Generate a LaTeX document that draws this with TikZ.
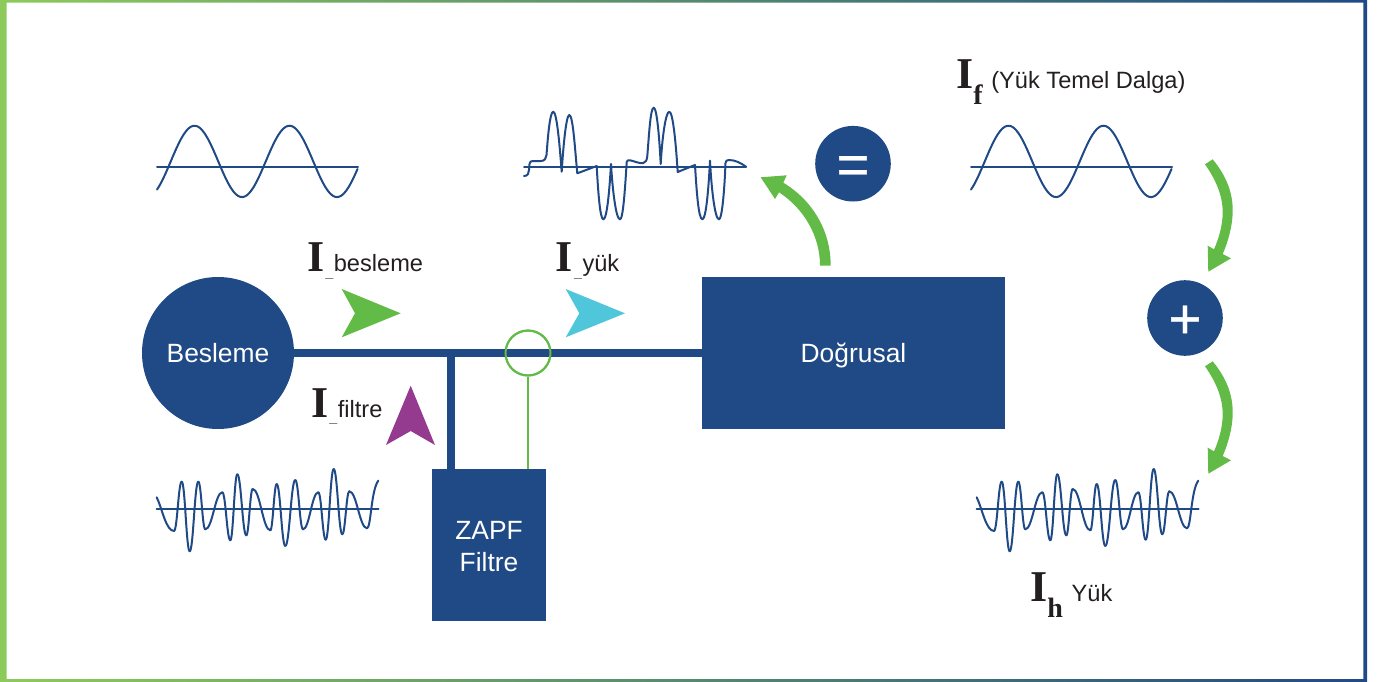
\documentclass[tikz,border=0pt]{standalone}
\usepackage{fontspec}
\setmainfont{Liberation Sans}
\newfontfamily\serfam{Liberation Serif}
\newfontfamily\opfam[FakeBold=0.6]{Liberation Sans}
\usetikzlibrary{calc}
\definecolor{navy}{HTML}{1F4A85}
\definecolor{gr}{HTML}{62BB46}
\definecolor{cy}{HTML}{50C6DB}
\definecolor{pu}{HTML}{943B90}
\definecolor{ink}{HTML}{231F20}
\definecolor{bleft}{HTML}{8CCB5A}
\newcommand\fntI{\serfam\bfseries\fontsize{33}{33}\selectfont}
\newcommand\fntS{\serfam\bfseries\fontsize{21}{21}\selectfont}
\newcommand\fntL{\fontsize{17.7}{20}\selectfont}
\newcommand\fntU{\bfseries\fontsize{10.8}{12}\selectfont}
\newcommand\Ilab[1]{{\fntI I}\hspace*{0.8pt}\raisebox{-4pt}{\fntU\_}\hspace*{0.3pt}#1}
\newcommand\optext[1]{\smash{\raisebox{-15pt}{#1}}}
\tikzset{
  block/.style={fill=navy,text=white,inner sep=0pt,align=center,font=\fontsize{19.8}{24}\selectfont},
  opnode/.style={circle,fill=navy,text=white,inner sep=0pt,minimum size=75.6*0.75pt,font=\opfam\fontsize{42}{42}\selectfont},
  bus/.style={navy,line width=7.5*0.75pt},
  wave/.style={navy,line width=2*0.75pt,line cap=round,line join=round},
  lab/.style={anchor=base west,inner sep=0pt,text=ink,font=\fntL},
  bentarrow/.style={fill=gr},
}
% noise-like wave: extrema relative to its own origin
\newcommand\noisewave[1]{%
  \begin{scope}[shift={(#1,0)}]
    \draw[wave] (156.7,509.3) -- (378.5,509.3);
    \draw[wave] (156.7,497.3) .. controls (162,508) and (166,531) .. (174,531);
    \foreach \x/\y [remember=\x as \px (initially 174),remember=\y as \py (initially 531)] in
      {181.7/481.7,189.7/551.3,198.3/481.7,205.3/529.3,222.3/492.3,230.3/540.3,237.3/474.3,246.3/535.3,252.7/489,270.3/530.3,276.7/484,285.3/546,295.3/480,303/529.3,318.3/492.3,325.7/539.7,333.7/469,342.3/534.3,349.3/491.3,367/528.3}{
      \pgfmathsetmacro\hh{0.42*(\x-\px)}
      \draw[wave] (\px,\py) .. controls +(\hh,0) and +(-\hh,0) .. (\x,\y);
    }
    \draw[wave] (367,528.3) .. controls (371,528.3) and (371,490) .. (378.3,480.7);
  \end{scope}}
\newcommand\sinewave[1]{%
  \begin{scope}[shift={(#1,0)}]
    \draw[wave] (157,167) -- (358,167);
    \draw[wave,smooth] plot[domain=157:357.5,samples=90] (\x,{161.4-35.7*cos((\x-194.5)/47.5*180)});
  \end{scope}}
\begin{document}
\begin{tikzpicture}[x=0.75pt,y=-0.75pt]
\useasboundingbox (0,0) rectangle (1379,682);
% gradient frame
\shade[left color=bleft,right color=navy,even odd rule]
  (0,0) rectangle (1367,682) (6.5,2.7) rectangle (1363.3,679);
% waves
\sinewave{0}
\sinewave{814}
\noisewave{0}
\noisewave{820}
\draw[wave] (524,167) -- (746,167);
\draw[wave] (524,176) .. controls (528,176) and (529,173) .. (529,170) -- (529.5,164)
 .. controls (530,161.5) and (531,161) .. (533,161) -- (541,161)
 .. controls (545,161) and (546,158) .. (546.5,155)
 .. controls (548,135) and (550,111.7) .. (553.3,111.7)
 .. controls (557,111.7) and (560,150) .. (561.7,171.7)
 .. controls (563,150) and (566,115) .. (569.3,115)
 .. controls (573,115) and (575,150) .. (577.3,173.3)
 -- (596.7,166)
 .. controls (598,190) and (600,219.3) .. (603.3,219.3)
 .. controls (607,219.3) and (609.5,190) .. (611,164)
 .. controls (612.5,190) and (616,219.3) .. (620,219.3)
 .. controls (623,219.3) and (625,190) .. (626.7,162)
 .. controls (627,160.5) and (628,160) .. (630,160.3)
 .. controls (634,161) and (640,164) .. (643.3,163)
 .. controls (646,162.5) and (646.8,160) .. (647.3,156)
 .. controls (649,135) and (650.5,107.7) .. (653.7,107.7)
 .. controls (657,107.7) and (659.5,140) .. (660.7,164)
 .. controls (662,140) and (665.5,111.7) .. (669.3,111.7)
 .. controls (673,111.7) and (676,145) .. (677.7,172)
 -- (695,165)
 .. controls (696.5,190) and (698.5,219.3) .. (702.3,219.3)
 .. controls (706,219.3) and (708.5,190) .. (710,160.7)
 .. controls (711.5,190) and (715,219.3) .. (719,219.3)
 .. controls (722,219.3) and (724.5,190) .. (725.5,163)
 .. controls (726,160.5) and (727,160) .. (729,160)
 .. controls (735,160) and (741,163) .. (746,166.7);
% blocks
\node[block,circle,minimum size=152*0.75pt] (besleme) at (218,353) {Besleme};
\node[block,minimum width=303*0.75pt,minimum height=152*0.75pt,text height=14.2pt,text depth=0pt] (dogrusal) at (853.5,353) {Doğrusal};
\node[block,minimum width=114*0.75pt,minimum height=152*0.75pt] (zapf) at (489,545) {\rule{0pt}{16pt}ZAPF\\Filtre};
\node[circle,draw=gr,line width=2*0.75pt,minimum size=45*0.75pt,inner sep=0pt] (sensor) at (528,353) {};
\coordinate (junc) at (451,353);
% connectors
\draw[bus] (besleme) -- (dogrusal);
\draw[bus] (junc) -- (junc |- zapf.north);
\draw[gr,line width=2*0.75pt] (sensor.south) -- (sensor.south |- zapf.north);
\draw[gr,line width=2*0.75pt] (sensor) circle[radius=22.5];
% operators
\node[opnode] (eq) at (853,163.7) {\optext{=}};
\node[opnode] (plus) at (1185,318) {\optext{+}};
% small arrowheads
\fill[gr] (400.7,313.3) -- (341.7,289) -- (355,313.3) -- (341.7,337.3) -- cycle;
\fill[cy] (625,313.3) -- (565.7,289) -- (579.3,313.3) -- (565.7,337.3) -- cycle;
\fill[pu] (410.7,385.7) -- (386,445) -- (410.7,431) -- (435,445) -- cycle;
% curved arrows
\fill[bentarrow] (830.7,265.7) .. controls (830.7,230) and (812,200) .. (783.3,182.7) -- (786.7,175.3) -- (760.7,177.3) -- (775,199) -- (779,192.3) .. controls (803,208) and (820,235) .. (820,265.7) -- cycle;
\foreach \dy in {0,202}{
\fill[bentarrow,yshift=-\dy*0.75pt] (1212.7,159.3) .. controls (1228,178) and (1233,195) .. (1232.7,212) .. controls (1232.5,226) and (1228,242) .. (1222.7,254) -- (1231,258.3) -- (1208.3,271.7) -- (1207.7,245.7) -- (1214,249.3) .. controls (1219,238) and (1222.7,225) .. (1222.7,212) .. controls (1222.7,196) and (1216,180) .. (1205,164.3) -- cycle;
}
% labels
\node[lab] (ibes) at (307,271.7) {\Ilab{besleme}};
\node[lab] (iyuk) at (555.7,271.7) {\Ilab{yük}};
\node[lab] (ifil) at (311,417.3) {\Ilab{filtre}};
\node[lab] (if) at (956,88.3) {{\fntI I}\raisebox{-12pt}{\fntS f}\hspace*{6.5pt}(Yük Temel Dalga)};
\node[lab] (ih) at (1030,601.7) {{\fntI I}\raisebox{-12pt}{\fntS h}\hspace*{6.5pt}Yük};
\end{tikzpicture}
\end{document}
